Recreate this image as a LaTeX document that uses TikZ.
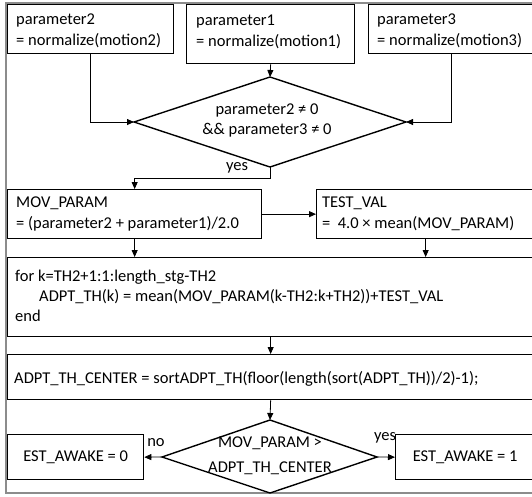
\documentclass[tikz,border=0pt]{standalone}
\usepackage{fontspec}
\setmainfont{Carlito}
\usetikzlibrary{arrows.meta}
\begin{document}
\begin{tikzpicture}[x=1pt,y=-1pt,
  box/.style={draw=black, line width=1.3pt, rectangle, inner sep=0pt, anchor=north west},
  txt/.style={font=\fontsize{16.5}{21}\selectfont, align=left, inner sep=0pt, anchor=west},
  ctxt/.style={font=\fontsize{16.5}{21}\selectfont, align=center, inner sep=0pt},
  conn/.style={line width=0.8pt, -{Triangle[length=7pt,width=6pt]}},
  dia/.style={draw=black, line width=1.4pt, line join=miter},
  lbl/.style={font=\fontsize{16.5}{18}\selectfont, inner sep=0pt}]
\useasboundingbox (0,0) rectangle (532,496);
\clip (0,0) rectangle (532,496);
\fill[white] (0,0) rectangle (532,496);
\draw[black!45, line width=1.6pt] (6,3) rectangle (536,493);

% top row
\node[box, minimum width=166pt, minimum height=49pt] (p2) at (7,4) {};
\node[txt] (p2t) at (16,31) {parameter2\\= normalize(motion2)};
\node[box, minimum width=168pt, minimum height=59pt] (p1) at (186,4) {};
\node[txt] (p1t) at (196,32) {parameter1\\= normalize(motion1)};
\node[box, minimum width=166pt, minimum height=49pt] (p3) at (368,4) {};
\node[txt] (p3t) at (377,31) {parameter3\\= normalize(motion3)};

% diamond 1
\coordinate (d1n) at (270,77);
\coordinate (d1s) at (270,167);
\coordinate (d1w) at (134,122);
\coordinate (d1e) at (406,122);
\draw[dia] (d1n) -- (d1e) -- (d1s) -- (d1w) -- cycle;
\node[ctxt, font=\fontsize{16.5}{20}\selectfont] (d1t) at (267,120) {parameter2 ≠ 0\\\&\& parameter3 ≠ 0};

\draw[conn] (p1.south) -- (d1n);
\draw[conn] (p2.south) |- (d1w);
\draw[conn] (p3.south) |- (d1e);

% second row
\node[box, minimum width=254pt, minimum height=49pt] (mov) at (7,189) {};
\node[txt] (movt) at (16,214) {MOV\_PARAM\\= (parameter2 + parameter1)/2.0};
\node[box, minimum width=218pt, minimum height=49pt] (test) at (316,189) {};
\node[txt] (testt) at (322,214) {TEST\_VAL\\=\ \ 4.0 × mean(MOV\_PARAM)};

\coordinate (yb) at (270,178);
\draw[conn] (d1s) -- (yb) -| (mov.north);
\node[lbl] (yes1) at (237,168) {yes};
\draw[conn] (mov.east) -- (test.west);

% for box
\node[box, minimum width=526pt, minimum height=79pt] (forb) at (7,257) {};
\node[txt, font=\fontsize{16.5}{20}\selectfont] (fort) at (15,296) {for k=TH2+1:1:length\_stg-TH2\\\hspace*{24pt}ADPT\_TH(k) = mean(MOV\_PARAM(k-TH2:k+TH2))+TEST\_VAL\\end};
\draw[conn] (mov.south) -- (mov.south |- forb.north);
\draw[conn] (test.south) -- (test.south |- forb.north);

% ADPT box
\node[box, minimum width=526pt, minimum height=45pt] (adpt) at (7,354) {};
\node[txt] (adptt) at (14,379) {ADPT\_TH\_CENTER = sortADPT\_TH(floor(length(sort(ADPT\_TH))/2)-1);};
\draw[conn] (forb.south) -- (adpt.north);

% diamond 2
\coordinate (d2n) at (270,420);
\coordinate (d2s) at (270,493);
\coordinate (d2w) at (162,457);
\coordinate (d2e) at (377,457);
\draw[dia] (d2n) -- (d2e) -- (d2s) -- (d2w) -- cycle;
\node[ctxt, font=\fontsize{16.5}{25}\selectfont] (d2t) at (270,456) {MOV\_PARAM >\\ADPT\_TH\_CENTER};
\draw[conn] (adpt.south) -- (d2n);

\node[box, minimum width=136pt, minimum height=45pt] (est0) at (7,434) {};
\node[ctxt] (est0t) at (est0.center) {EST\_AWAKE = 0};
\node[box, minimum width=139pt, minimum height=45pt] (est1) at (395,434) {};
\node[ctxt] (est1t) at (est1.center) {EST\_AWAKE = 1};
\draw[conn] (d2w) -- (est0.east);
\draw[conn] (d2e) -- (est1.west);
\node[lbl] (no) at (156,443) {no};
\node[lbl] (yes2) at (385,438) {yes};
\end{tikzpicture}
\end{document}
